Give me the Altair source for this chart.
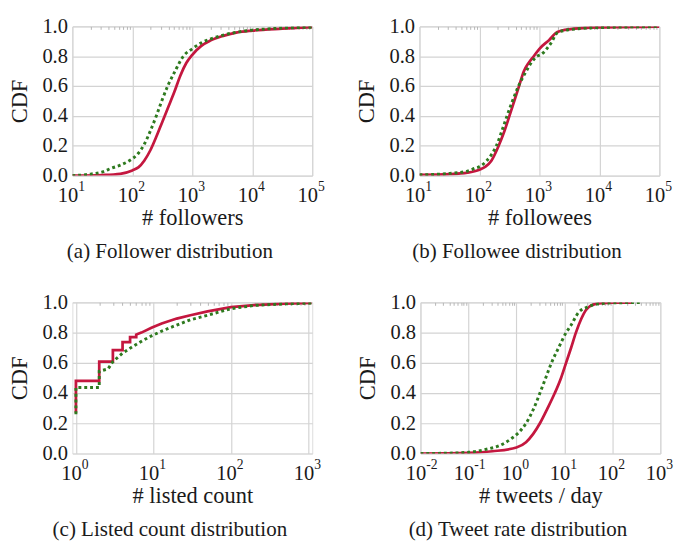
import altair as alt
import pandas as pd

RED = "#c4173f"
GREEN = "#2e7a1f"
FONT = "Liberation Serif"
TXT = "#1a1a1a"
GRID = "#d3d3d3"

# ---------------- data ----------------
# (a) followers
a_red_x = [10, 32, 63, 100, 126, 158, 200, 251, 316, 398, 501, 631, 794, 1000, 1413, 1995, 3162, 5623, 10000, 31623, 100000]
a_red_y = [0.0, 0.004, 0.012, 0.035, 0.055, 0.10, 0.17, 0.26, 0.36, 0.46, 0.56, 0.67, 0.755, 0.81, 0.87, 0.905, 0.935, 0.96, 0.972, 0.985, 0.995]
a_grn_x = [10, 20, 32, 45, 63, 89, 126, 158, 200, 251, 316, 398, 501, 708, 1000, 1413, 1995, 3162, 10000, 100000]
a_grn_y = [0.0, 0.01, 0.025, 0.05, 0.07, 0.10, 0.15, 0.21, 0.30, 0.40, 0.51, 0.61, 0.69, 0.80, 0.85, 0.89, 0.915, 0.94, 0.975, 0.995]

# (b) followees
b_red_x = [10, 32, 63, 100, 126, 158, 209, 251, 316, 380, 457, 550, 660, 803, 1000, 1445, 1995, 3090, 10000, 100000]
b_red_y = [0.005, 0.01, 0.02, 0.04, 0.06, 0.10, 0.20, 0.28, 0.40, 0.50, 0.60, 0.70, 0.755, 0.80, 0.85, 0.908, 0.962, 0.98, 0.993, 0.999]
b_grn_x = [10, 32, 63, 85, 100, 132, 158, 191, 251, 288, 355, 447, 603, 741, 912, 1047, 1549, 1995, 3162, 10000, 100000]
b_grn_y = [0.005, 0.015, 0.03, 0.05, 0.06, 0.10, 0.14, 0.20, 0.33, 0.40, 0.50, 0.60, 0.70, 0.76, 0.80, 0.81, 0.887, 0.958, 0.978, 0.992, 0.999]

# (c) listed count (step-like at small integers)
c_red_x = [1, 1, 2, 2, 3, 3, 4, 4, 5, 5, 6, 6, 7, 9.6, 12.8, 20, 30, 50, 100, 200, 500, 1100]
c_red_y = [0.27, 0.48, 0.48, 0.608, 0.608, 0.684, 0.684, 0.737, 0.737, 0.77, 0.77, 0.787, 0.80, 0.834, 0.86, 0.893, 0.915, 0.94, 0.968, 0.982, 0.992, 0.996]
c_grn_x = [1, 1, 2, 2, 2.6, 3, 4, 5.3, 7.3, 9.6, 12.8, 20, 30, 50, 100, 200, 500, 1100]
c_grn_y = [0.26, 0.437, 0.437, 0.544, 0.56, 0.608, 0.664, 0.705, 0.748, 0.78, 0.81, 0.85, 0.885, 0.915, 0.958, 0.98, 0.99, 0.995]

# (d) tweets / day
d_red_x = [0.01, 0.0316, 0.1, 0.316, 1, 1.585, 2.239, 3.09, 4.467, 6.31, 8.511, 10.84, 13.8, 17.38, 22.39, 28.18, 39.81, 63.1, 100, 257]
d_red_y = [0.0, 0.001, 0.004, 0.015, 0.04, 0.075, 0.13, 0.20, 0.30, 0.40, 0.50, 0.60, 0.70, 0.80, 0.89, 0.95, 0.985, 0.995, 0.998, 0.999]
d_grn_x = [0.01, 0.0316, 0.1, 0.251, 0.427, 0.794, 1.122, 1.585, 2.239, 3.09, 4.074, 5.37, 7.586, 10.84, 13.49, 19.95, 29.51, 50.12, 100, 427]
d_grn_y = [0.0, 0.002, 0.008, 0.03, 0.05, 0.10, 0.14, 0.20, 0.29, 0.40, 0.50, 0.60, 0.70, 0.80, 0.845, 0.935, 0.968, 0.99, 0.997, 0.999]

# axis tick labels
ab_decades = [10, 100, 1000, 10000, 100000]
ab_exps = ["1", "2", "3", "4", "5"]
c_decades = [1, 10, 100, 1000]
c_exps = ["0", "1", "2", "3"]
d_decades = [0.01, 0.1, 1, 10, 100, 1000]
d_exps = ["-2", "-1", "0", "1", "2", "3"]
y_ticks = [0.0, 0.2, 0.4, 0.6, 0.8, 1.0]

titles_x = ["# followers", "# followees", "# listed count", "# tweets / day"]
captions = ["(a) Follower distribution", "(b) Followee distribution",
            "(c) Listed count distribution", "(d) Tweet rate distribution"]


def minor_ticks(lo_exp, hi_exp):
    vals = []
    for e in range(lo_exp, hi_exp):
        for m in range(2, 10):
            vals.append(m * 10.0 ** e)
    return vals


def panel(xr, yr, xg, yg, domain, decades, exps, minors, xtitle, caption, interp, w, h):
    red = pd.DataFrame({"x": xr, "y": yr, "o": list(range(len(xr)))})
    grn = pd.DataFrame({"x": xg, "y": yg, "o": list(range(len(xg)))})
    lab = pd.DataFrame({"x": decades, "y": [0.0] * len(decades), "e": exps})

    xs = alt.Scale(type="log", domain=domain, nice=False)
    ys = alt.Scale(domain=[0, 1], nice=False, zero=False)
    yaxis = alt.Axis(orient="left", values=y_ticks, format=".1f", title="CDF", grid=True,
                     gridColor=GRID, gridWidth=1.2, ticks=False, domain=False, labelFontSize=21,
                     labelPadding=5, titleFontSize=23, titlePadding=11, labelFont=FONT,
                     titleFont=FONT, labelColor=TXT, titleColor=TXT, titleFontWeight="normal",
                     labelOverlap=False)
    xaxis = alt.Axis(orient="bottom", values=decades, labels=False, grid=True, gridColor=GRID,
                     gridWidth=1.2, ticks=False, domain=False, title=xtitle, titleFontSize=23,
                     titleFont=FONT, titleColor=TXT, titleFontWeight="normal", titlePadding=32)
    blank = alt.Axis(orient="bottom", values=decades, labels=False, grid=False, ticks=False,
                     domain=False, title=None, titlePadding=0, maxExtent=0, minExtent=0)
    topaxis = alt.Axis(orient="top", values=minors, labels=False, grid=False, domain=False,
                       ticks=True, tickSize=3, tickColor="#b5b5b5", tickWidth=1, offset=-3,
                       title=None, titlePadding=0, maxExtent=0, minExtent=0)

    l_red = alt.Chart(red).mark_line(color=RED, strokeWidth=2.8, interpolate=interp, clip=True).encode(
        x=alt.X("x:Q", scale=xs, axis=xaxis),
        y=alt.Y("y:Q", scale=ys, axis=yaxis),
        order="o:Q",
    )
    l_grn = alt.Chart(grn).mark_line(color=GREEN, strokeWidth=3, strokeDash=[3, 3],
                                     interpolate=interp, clip=True).encode(
        x=alt.X("x:Q", scale=xs, axis=topaxis),
        y=alt.Y("y:Q", scale=ys, axis=yaxis),
        order="o:Q",
    )
    base = alt.Chart(lab).mark_text(align="right", baseline="top", dx=6, dy=10, fontSize=21,
                                    font=FONT, color=TXT).encode(
        x=alt.X("x:Q", scale=xs, axis=blank), y=alt.Y("y:Q", scale=ys, axis=yaxis),
        text=alt.value("10"))
    sup = alt.Chart(lab).mark_text(align="left", baseline="top", dx=6, dy=5, fontSize=14,
                                   font=FONT, color=TXT).encode(
        x=alt.X("x:Q", scale=xs, axis=blank), y=alt.Y("y:Q", scale=ys, axis=yaxis), text="e:N")

    return alt.layer(l_red, base, sup, l_grn).properties(
        width=w, height=h,
        title=alt.TitleParams(caption, orient="bottom", font=FONT, fontSize=21.5,
                              fontWeight="normal", color=TXT, anchor="middle",
                              frame="group", dx=-23, offset=13),
    )


pa = panel(a_red_x, a_red_y, a_grn_x, a_grn_y, [10, 100000], ab_decades, ab_exps,
           minor_ticks(1, 5), titles_x[0], captions[0], "monotone", 246, 153)
pb = panel(b_red_x, b_red_y, b_grn_x, b_grn_y, [10, 100000], ab_decades, ab_exps,
           minor_ticks(1, 5), titles_x[1], captions[1], "monotone", 246, 153)
pc = panel(c_red_x, c_red_y, c_grn_x, c_grn_y, [0.9, 1120], c_decades, c_exps,
           minor_ticks(0, 3), titles_x[2], captions[2], "linear", 246, 155)
pd_ = panel(d_red_x, d_red_y, d_grn_x, d_grn_y, [0.01, 1000], d_decades, d_exps,
            minor_ticks(-2, 3), titles_x[3], captions[3], "monotone", 246, 155)

chart = alt.vconcat(
    alt.hconcat(pa, pb, spacing=30),
    alt.hconcat(pc, pd_, spacing=35),
    spacing=28,
).properties(padding=0).configure_view(stroke=GRID, strokeWidth=1.2).configure(
    font=FONT, background="white")

chart.save("out.html", embed_options={"renderer": "svg", "actions": False})
